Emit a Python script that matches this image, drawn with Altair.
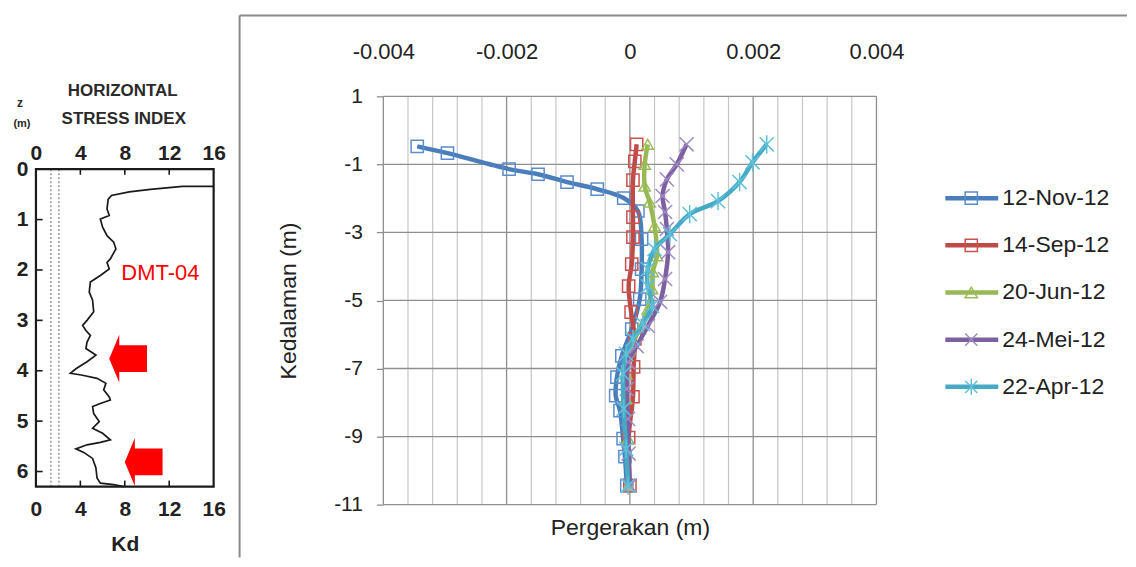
import altair as alt
import pandas as pd

# ---------------- Left panel: DMT-04 horizontal stress index ----------------
kd_values = [16.0, 13.2, 10.3, 8.4, 6.8, 6.5, 6.4, 6.6, 5.8, 6.0,
             6.4, 7.0, 7.2, 6.7, 6.4, 6.6, 5.8, 4.9, 4.8, 5.1,
             5.2, 4.6, 4.2, 4.5, 4.9, 4.6, 4.5, 5.4, 4.6, 3.6,
             3.1, 4.2, 5.5, 6.3, 6.1, 6.6, 6.7, 5.8, 5.1, 5.2,
             5.7, 5.1, 6.0, 6.7, 5.8, 4.6, 3.6, 4.3, 5.1, 5.4,
             5.5, 5.8, 7.0, 7.9]
kd_depths = [0.34, 0.34, 0.40, 0.45, 0.52, 0.60, 0.79, 0.92, 0.99, 1.15,
             1.32, 1.45, 1.58, 1.78, 1.85, 1.98, 2.11, 2.24, 2.44, 2.60,
             2.83, 3.00, 3.10, 3.20, 3.30, 3.43, 3.56, 3.69, 3.82, 3.96,
             4.05, 4.09, 4.15, 4.25, 4.38, 4.52, 4.58, 4.65, 4.71, 4.85,
             5.01, 5.14, 5.24, 5.37, 5.42, 5.47, 5.55, 5.62, 5.74, 5.93,
             6.13, 6.23, 6.26, 6.30]
kd_tick_values = [0, 4, 8, 12, 16]
z_tick_values = [0, 1, 2, 3, 4, 5, 6]
kd_dotted = [1.35, 2.07]
arrow_kd = [8.3, 9.7]
arrow_z = [3.76, 5.81]
label_kd = [11.2]
label_z = [2.06]
label_text = ["DMT-04"]

# ---------------- Right panel: inclinometer readings ----------------
series_names = ["12-Nov-12", "14-Sep-12", "20-Jun-12", "24-Mei-12", "22-Apr-12"]

nov_depth = [-0.47, -0.67, -1.14, -1.29, -1.52, -1.73, -1.99, -2.37, -3.20, -4.08,
             -4.96, -5.84, -6.63, -7.25, -7.80, -8.24, -9.06, -9.59, -10.44]
nov_move = [-0.00345, -0.00296, -0.00196, -0.00149, -0.00102, -0.00053, -0.00010, 0.00013, 0.00019, 0.00019,
            0.00016, 0.00003, -0.00013, -0.00021, -0.00023, -0.00016, -0.00011, -0.00008, -0.00005]

sep_depth = [-0.41, -0.91, -1.46, -2.55, -3.14, -3.93, -4.58, -5.34, -6.13, -6.95, -7.83, -9.03, -10.44]
sep_move = [0.00011, 0.00008, 0.00005, 0.00005, 0.00005, 0.00003, -0.00002, 0.00002, 0.00008, 0.00006,
            0.00005, -0.00002, 0.0]

jun_depth = [-0.41, -1.00, -1.64, -2.11, -2.81, -3.69, -4.16, -4.66, -5.25, -5.84, -6.42, -7.16, -7.89,
             -9.06, -10.44]
jun_move = [0.00029, 0.00024, 0.00024, 0.00032, 0.00040, 0.00044, 0.00037, 0.00036, 0.00029, 0.00016,
            0.0, -0.00006, -0.00006, -0.00003, -0.00002]

mei_depth = [-0.41, -1.00, -1.44, -1.93, -2.40, -2.90, -3.58, -4.37, -5.04, -5.75, -6.34, -6.81, -7.60,
             -8.48, -9.50, -10.44]
mei_move = [0.00092, 0.00076, 0.00060, 0.00053, 0.00057, 0.00060, 0.00062, 0.00057, 0.00049, 0.00029,
            0.00011, -0.00003, -0.00005, -0.00003, -0.00002, 0.0]

apr_depth = [-0.41, -0.94, -1.52, -2.08, -2.46, -3.05, -3.49, -4.08, -4.58, -5.16, -5.69, -6.13, -6.57,
             -7.16, -8.18, -9.36, -10.44]
apr_move = [0.00222, 0.00199, 0.00178, 0.00143, 0.00097, 0.00065, 0.00040, 0.00029, 0.00029, 0.00036,
            0.00021, 0.00005, -0.00006, -0.00011, -0.00010, -0.00006, -0.00003]

x_major = [-0.004, -0.002, 0, 0.002, 0.004]
x_minor = [-0.0036, -0.0032, -0.0028, -0.0024, -0.0016, -0.0012, -0.0008, -0.0004,
           0.0004, 0.0008, 0.0012, 0.0016, 0.0024, 0.0028, 0.0032, 0.0036]
y_ticks = [1, -1, -3, -5, -7, -9, -11]

line_colors = ["#4A7EBB", "#BE4B48", "#98B954", "#7D60A0", "#46AAC5"]
marker_colors = ["#5B8CCB", "#C9524F", "#9BBB59", "#9F8AC4", "#5FC0DA"]
X_PATH = "M-1,-1L1,1M-1,1L1,-1"
STAR_PATH = "M-1,-1L1,1M-1,1L1,-1M0,-1.3L0,1.3"
marker_shapes = ["square", "square", "triangle-up", X_PATH, STAR_PATH]
marker_sizes = [150, 150, 130, 200, 200]

BOLD_FONT = "Liberation Sans, Arial, sans-serif"
SANS = "Liberation Sans, Arial, sans-serif"
DARK = "#222222"
ARROW_PATH = "M-0.79,0L-0.37,-1L-0.37,-0.56L0.79,-0.56L0.79,0.56L-0.37,0.56L-0.37,1Z"

# ================= Layout of the single drawing area =================
W, H = 1081, 409
L_PX, L_TOP, L_BOT = 178, 73, 391
kd_px = L_PX / 16.0
z_px = (L_BOT - L_TOP) / 6.3
kd_x = alt.Scale(domain=[0, W / kd_px], nice=False, zero=False)
kd_y = alt.Scale(domain=[-L_TOP / z_px, 6.3 + (H - L_BOT) / z_px], nice=False, zero=False, reverse=True)
R_LEFT, R_RIGHT = 348, 842
m_px = (R_RIGHT - R_LEFT) / 0.008
xs = alt.Scale(domain=[-0.004 - R_LEFT / m_px, 0.004 + (W - R_RIGHT) / m_px], nice=False, zero=False)
ys = alt.Scale(domain=[-11, 1], nice=False, zero=False)

one = pd.DataFrame({"a": [0]})

# ---------------- left panel layers ----------------
dotted = alt.Chart(pd.DataFrame({"k": kd_dotted, "z0": [0, 0], "z1": [6.3, 6.3]})).mark_rule(
    color="#8a8a8a", strokeWidth=1.3, strokeDash=[2, 2]
).encode(
    x=alt.X("k:Q", scale=kd_x, axis=None),
    y=alt.Y("z0:Q", scale=kd_y, axis=None), y2="z1:Q",
)

left_ticks = alt.Chart(pd.DataFrame({"z": z_tick_values[1:], "k0": [0] * 6, "k1": [0.6] * 6})).mark_rule(
    color="#1a1a1a", strokeWidth=1.6
).encode(
    x=alt.X("k0:Q", scale=kd_x, axis=None), x2="k1:Q",
    y=alt.Y("z:Q", scale=kd_y, axis=None),
)

tb_ticks = alt.Chart(pd.DataFrame({
    "k": kd_tick_values[1:-1] * 2,
    "z0": [0, 0, 0, 6.18, 6.18, 6.18],
    "z1": [0.11, 0.11, 0.11, 6.3, 6.3, 6.3],
})).mark_rule(color="#1a1a1a", strokeWidth=1.6).encode(
    x=alt.X("k:Q", scale=kd_x, axis=None),
    y=alt.Y("z0:Q", scale=kd_y, axis=None), y2="z1:Q",
)

kd_df = pd.DataFrame({"kd": kd_values, "z": kd_depths, "i": list(range(len(kd_values)))})
profile = alt.Chart(kd_df).mark_line(color="#1a1a1a", strokeWidth=1.7).encode(
    x=alt.X("kd:Q", scale=kd_x, axis=alt.Axis(
        orient="top", offset=-L_TOP, values=kd_tick_values, ticks=False, domain=False, grid=False,
        labelPadding=6, labelFlush=False, labelOverlap=False, title=None,
        labelFont=BOLD_FONT, labelFontSize=21, labelFontWeight="bold", labelColor=DARK)),
    y=alt.Y("z:Q", scale=kd_y, axis=alt.Axis(
        values=z_tick_values, ticks=False, domain=False, grid=False, labelPadding=8, title=None,
        labelOverlap=False, labelFont=BOLD_FONT, labelFontSize=21, labelFontWeight="bold", labelColor=DARK)),
    order=alt.Order("i:Q"),
)

frame = alt.Chart(pd.DataFrame({"k0": [0], "k1": [16], "z0": [0], "z1": [6.3]})).mark_rect(
    fillOpacity=0, stroke="#1a1a1a", strokeWidth=2.2
).encode(
    x=alt.X("k0:Q", scale=kd_x, axis=alt.Axis(
        orient="bottom", offset=-(H - L_BOT), values=kd_tick_values, ticks=False, domain=False, grid=False,
        labelPadding=12, labelFlush=False, labelOverlap=False,
        labelFont=BOLD_FONT, labelFontSize=21, labelFontWeight="bold", labelColor=DARK,
        title="Kd", titleFont=BOLD_FONT, titleFontSize=21, titleFontWeight="bold", titleColor=DARK,
        titlePadding=14, titleX=89, titleAnchor="middle")),
    x2="k1:Q",
    y=alt.Y("z0:Q", scale=kd_y, axis=None), y2="z1:Q",
)

dmt = alt.Chart(pd.DataFrame({"k": label_kd, "z": label_z, "t": label_text})).mark_text(
    color="#FF0000", font=SANS, fontSize=22, baseline="middle", align="center"
).encode(
    x=alt.X("k:Q", scale=kd_x, axis=None),
    y=alt.Y("z:Q", scale=kd_y, axis=None),
    text="t:N",
)

arrows = alt.Chart(pd.DataFrame({"k": arrow_kd, "z": arrow_z})).mark_point(
    shape=ARROW_PATH, filled=True, fill="#FF0000", strokeWidth=0, size=2300, opacity=1
).encode(
    x=alt.X("k:Q", scale=kd_x, axis=None),
    y=alt.Y("z:Q", scale=kd_y, axis=None),
)


def ptext(txt, x, y, size, weight="bold"):
    return alt.Chart(one).mark_text(
        text=txt, font=BOLD_FONT, fontSize=size, fontWeight=weight, color="#2a2a2a",
        align="center", baseline="middle"
    ).encode(x=alt.value(x), y=alt.value(y))


# ---------------- right panel layers ----------------
GRID = "#8f8f8f"
minor = alt.Chart(pd.DataFrame({"v": x_minor})).mark_rule(color="#c6c6c6", strokeWidth=1.2).encode(
    x=alt.X("v:Q", scale=xs, axis=alt.Axis(
        orient="bottom", labels=False, ticks=False, domain=False, grid=False,
        title="Pergerakan (m)", titleFont=SANS, titleFontSize=23, titleFontWeight="normal",
        titleColor=DARK, titlePadding=12, titleX=595, titleAnchor="middle")),
)

major = alt.Chart(pd.DataFrame({"v": x_major})).mark_rule(color=GRID, strokeWidth=1.3).encode(
    x=alt.X("v:Q", scale=xs, axis=alt.Axis(
        orient="top", values=x_major, ticks=False, domain=False, grid=False,
        labelExpr="datum.value == 0 ? '0' : (datum.value < 0 ? '-' : '') + format(abs(datum.value), '.3f')",
        labelPadding=33, labelFlush=False, labelOverlap=False, title=None,
        labelFont=SANS, labelFontSize=22, labelColor=DARK)),
)

hgrid = alt.Chart(pd.DataFrame({"d": y_ticks, "x0": [-0.004] * 7, "x1": [0.004] * 7})).mark_rule(
    color=GRID, strokeWidth=1.3
).encode(
    x=alt.X("x0:Q", scale=xs, axis=None), x2="x1:Q",
    y=alt.Y("d:Q", scale=ys, axis=alt.Axis(
        orient="left", offset=-R_LEFT,
        values=y_ticks, tickSize=7, tickColor=GRID, tickWidth=1.3, domain=False, grid=False,
        labelExpr="datum.value < 0 ? '-' + abs(datum.value) : '' + datum.value",
        labelPadding=14, labelOverlap=False, labelFont=SANS, labelFontSize=21, labelColor=DARK,
        title="Kedalaman (m)", titleFont=SANS, titleFontSize=23, titleFontWeight="normal",
        titleColor=DARK, titlePadding=33)),
)

series_data = [
    (nov_move, nov_depth), (sep_move, sep_depth), (jun_move, jun_depth),
    (mei_move, mei_depth), (apr_move, apr_depth),
]
series_layers = []
for k, (mv, dp) in enumerate(series_data):
    df = pd.DataFrame({"move": mv, "depth": dp, "i": list(range(len(mv)))})
    base = alt.Chart(df).encode(
        x=alt.X("move:Q", scale=xs, axis=None),
        y=alt.Y("depth:Q", scale=ys, axis=None),
    )
    series_layers.append(
        base.mark_line(color=line_colors[k], strokeWidth=4.5, interpolate="catmull-rom").encode(
            order=alt.Order("i:Q"))
    )
    series_layers.append(
        base.mark_point(shape=marker_shapes[k], size=marker_sizes[k], filled=False,
                        stroke=marker_colors[k], strokeWidth=1.5, opacity=1)
    )

# frame lines around the right-hand figure (page decoration)
vborder = alt.Chart(one).mark_rule(color="#8a8a8a", strokeWidth=2).encode(
    x=alt.value(204), y=alt.value(-81), y2=alt.value(462))
hborder = alt.Chart(one).mark_rule(color="#8a8a8a", strokeWidth=2).encode(
    x=alt.value(204), x2=alt.value(1093), y=alt.value(-81))

# ---------------- legend ----------------
STEP = 47.25
leg_df = pd.DataFrame({"s": series_names, "idx": list(range(len(series_names)))})
leg_y = alt.Scale(domain=[-102 / STEP, (H - 102) / STEP], nice=False, zero=False, reverse=True)
leg_base = alt.Chart(leg_df).encode(y=alt.Y("idx:Q", scale=leg_y, axis=None))
leg_line = leg_base.mark_rule(strokeWidth=4.5).encode(
    x=alt.value(911), x2=alt.value(964),
    color=alt.Color("s:N", scale=alt.Scale(domain=series_names, range=line_colors), legend=None),
)
leg_pts = leg_base.mark_point(filled=False, strokeWidth=1.5, opacity=1).encode(
    x=alt.value(937),
    shape=alt.Shape("s:N", scale=alt.Scale(domain=series_names, range=marker_shapes), legend=None),
    size=alt.Size("s:N", scale=alt.Scale(domain=series_names, range=marker_sizes), legend=None),
    stroke=alt.Stroke("s:N", scale=alt.Scale(domain=series_names, range=marker_colors), legend=None),
)
leg_text = leg_base.mark_text(align="left", baseline="middle", font=SANS, fontSize=23, color=DARK).encode(
    x=alt.value(968), text="s:N")

chart = alt.layer(
    dotted, left_ticks, tb_ticks, profile, frame, dmt, arrows,
    ptext("HORIZONTAL", 87, -5, 17),
    ptext("STRESS INDEX", 88, 23, 17),
    ptext("z", -16, 7, 12),
    ptext("(m)", -14, 28, 11),
    minor, major, hgrid, *series_layers,
    vborder, hborder,
    leg_line, leg_pts, leg_text,
).resolve_scale(
    x="independent", y="independent"
).resolve_axis(
    x="independent", y="independent"
).properties(
    width=W, height=H,
    padding={"left": 5, "top": 6, "right": 0, "bottom": 0},
).configure_view(strokeWidth=0)

chart.save("out.html", embed_options={"renderer": "svg", "actions": False})
